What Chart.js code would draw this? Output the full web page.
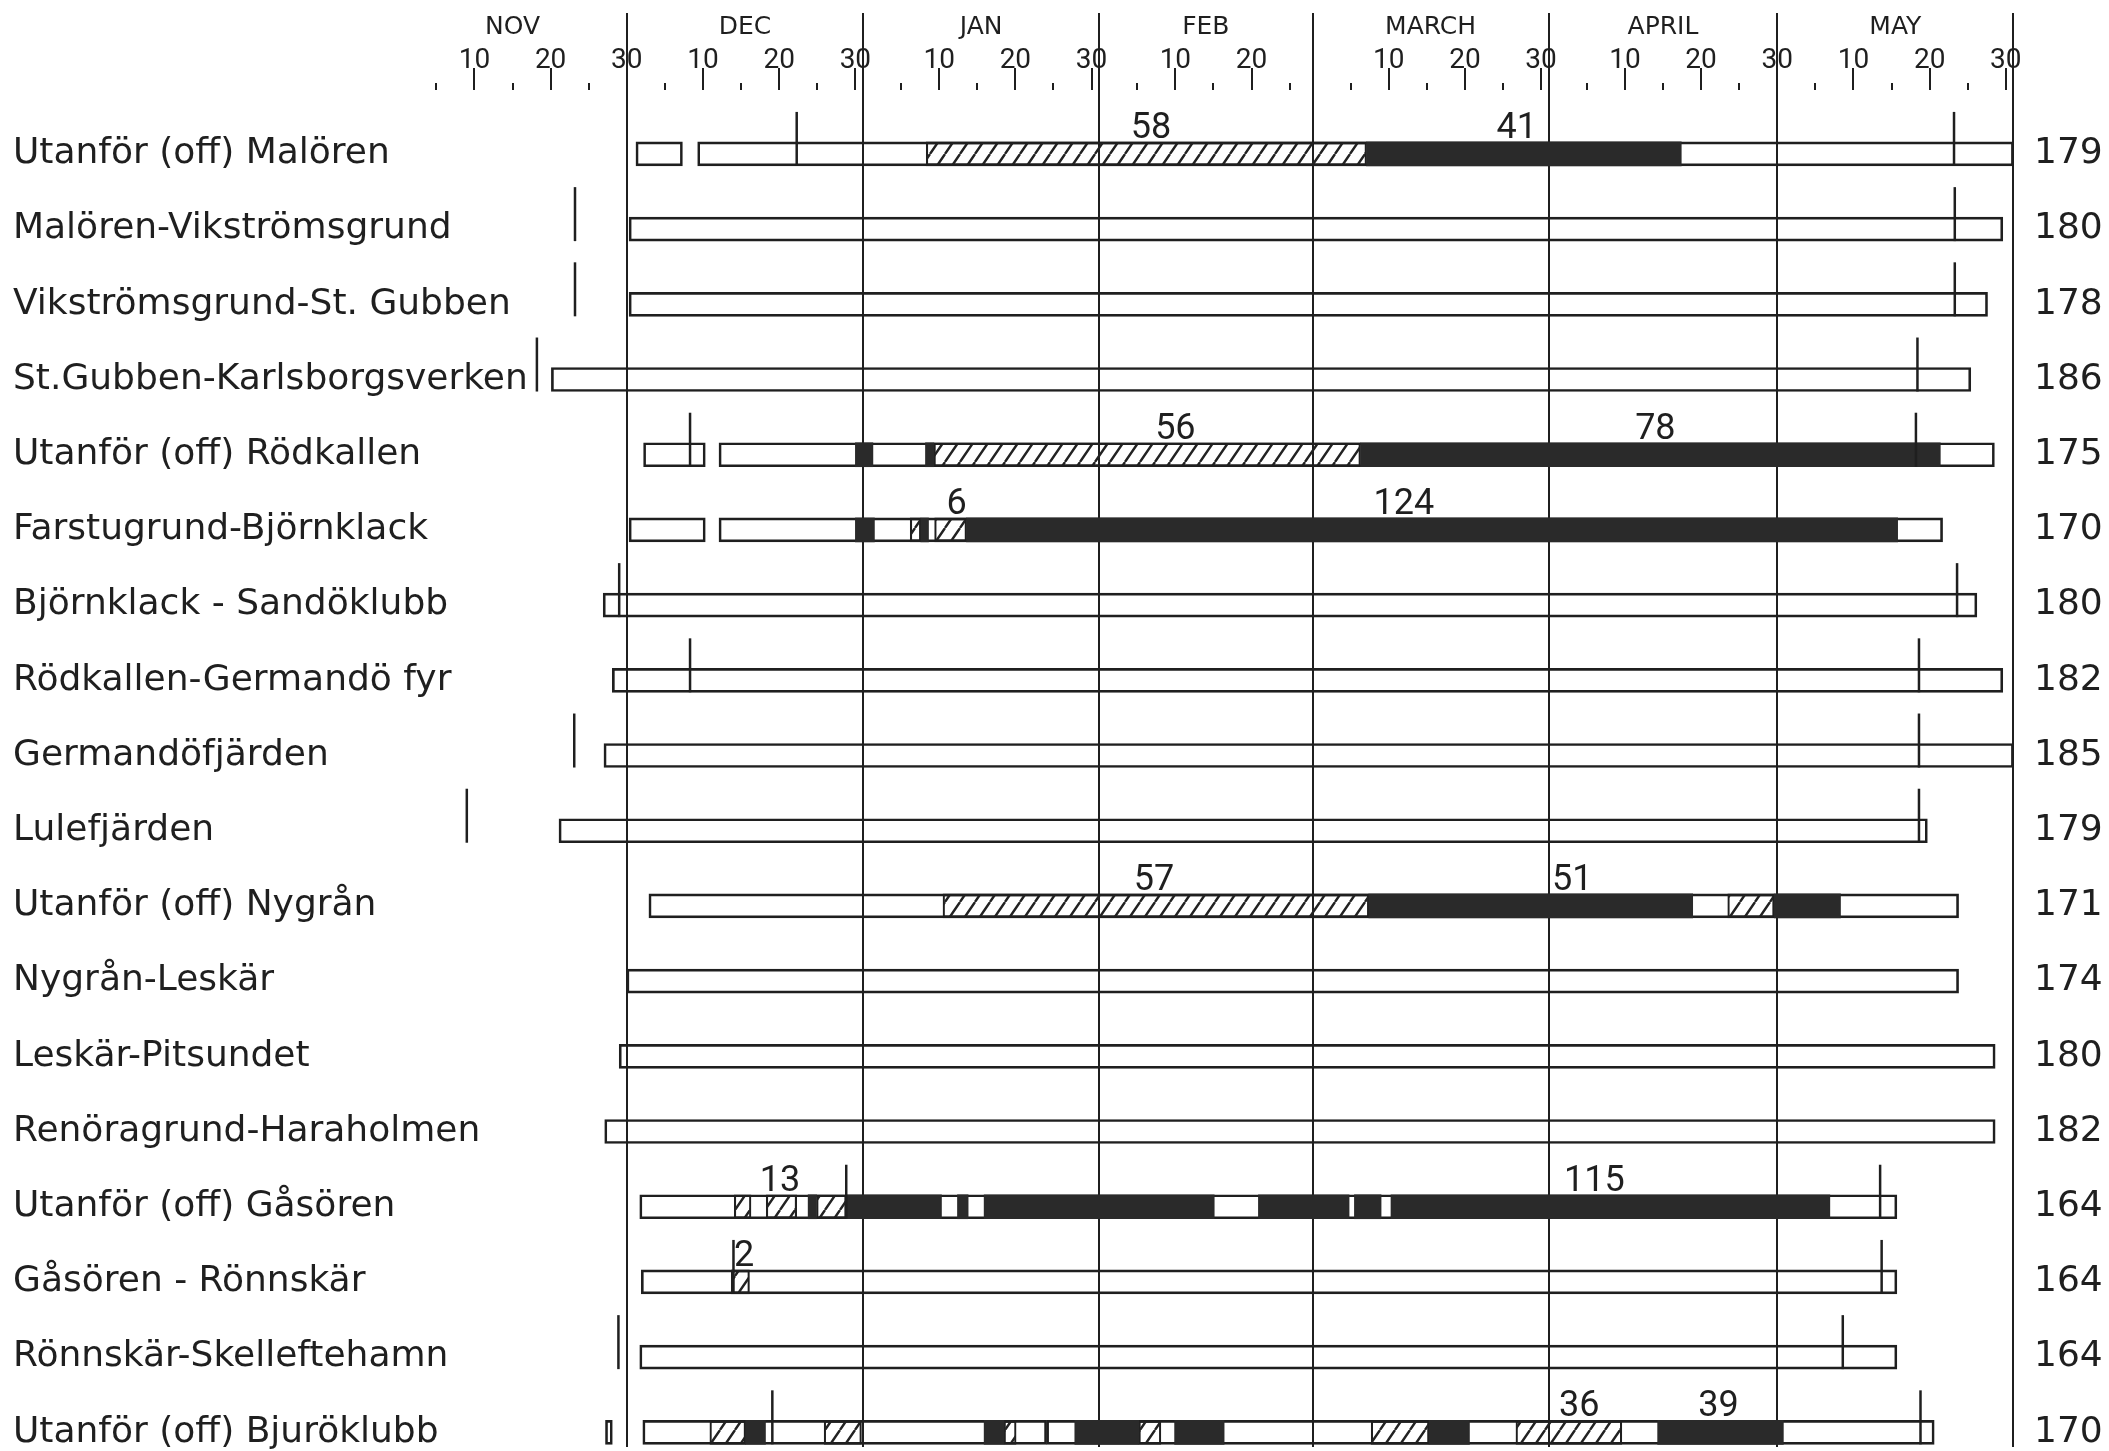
<!DOCTYPE html>
<html><head><meta charset="utf-8">
<script src="https://cdn.jsdelivr.net/npm/chart.js@4.4.0/dist/chart.umd.min.js"></script>
<style>html,body{margin:0;padding:0;background:#fff;}canvas{display:block;}</style>
</head><body>
<canvas id="c" width="2109" height="1451"></canvas>
<script>
// ---------- DATA (day numbers counted from 1 Nov = 1; 30 = 30 Nov, 61 = 31 Dec, ...) ----------
const stations = [
  'Utanför (off) Malören', 'Malören-Vikströmsgrund', 'Vikströmsgrund-St. Gubben',
  'St.Gubben-Karlsborgsverken', 'Utanför (off) Rödkallen', 'Farstugrund-Björnklack',
  'Björnklack - Sandöklubb', 'Rödkallen-Germandö fyr', 'Germandöfjärden', 'Lulefjärden',
  'Utanför (off) Nygrån', 'Nygrån-Leskär', 'Leskär-Pitsundet', 'Renöragrund-Haraholmen',
  'Utanför (off) Gåsören', 'Gåsören - Rönnskär', 'Rönnskär-Skelleftehamn', 'Utanför (off) Bjuröklubb'
];
const totalDays = [179, 180, 178, 186, 175, 170, 180, 182, 185, 179, 171, 174, 180, 182, 164, 164, 164, 170];

const monthNames = ['NOV', 'DEC', 'JAN', 'FEB', 'MARCH', 'APRIL', 'MAY'];
const monthLengths = [30, 31, 31, 28, 31, 30, 31];
const labelledDays = [10, 20, 30];
const dottedDays = [5, 15, 25];

// [row, from, to]
const openSpans = [
  [0, 31.2, 37.3], [0, 39.3, 212],
  [1, 30.3, 210.6],
  [2, 30.3, 208.6],
  [3, 20.1, 206.4],
  [4, 32.2, 40.3], [4, 42.1, 209.5],
  [5, 30.3, 40.3], [5, 42.1, 202.7],
  [6, 26.9, 207.2],
  [7, 28.1, 210.6],
  [8, 27.0, 212],
  [9, 21.1, 200.7],
  [10, 32.9, 204.8],
  [11, 30.0, 204.8],
  [12, 29.0, 209.6],
  [13, 27.1, 209.6],
  [14, 31.7, 196.7],
  [15, 31.9, 196.7],
  [16, 31.7, 196.7],
  [17, 27.2, 28.1], [17, 32.1, 85.1], [17, 85.1, 201.6]
];
const hatchedSpans = [
  [0, 69.3, 127.1],
  [4, 70.3, 126.3],
  [5, 67.2, 68.6], [5, 70.4, 74.6],
  [10, 71.5, 127.4], [10, 174.5, 180.6],
  [14, 44.1, 46.3], [14, 48.3, 52.3], [14, 54.9, 58.8],
  [15, 43.7, 46.1],
  [17, 40.9, 45.6], [17, 55.9, 60.8], [17, 79.5, 81.1], [17, 97.2, 100.1],
  [17, 127.7, 135.3], [17, 146.7, 160.6]
];
const solidSpans = [
  [0, 127.1, 168.4],
  [4, 60.0, 62.3], [4, 69.2, 70.3], [4, 126.3, 202.4],
  [5, 60.0, 62.5], [5, 68.6, 69.6], [5, 74.6, 196.8],
  [10, 127.4, 169.9], [10, 180.6, 189.3],
  [14, 53.8, 54.9], [14, 58.8, 71.3], [14, 73.4, 74.8], [14, 76.9, 107.1],
  [14, 112.9, 124.8], [14, 125.5, 129.0], [14, 130.3, 187.9],
  [17, 45.6, 48.2], [17, 76.9, 79.5], [17, 88.8, 97.2], [17, 101.9, 108.4],
  [17, 135.3, 140.6], [17, 165.3, 181.8]
];
// [row, day] vertical marks
const markDays = [
  [0, 52.3], [0, 204.2],
  [1, 23.2], [1, 204.3],
  [2, 23.2], [2, 204.3],
  [3, 18.2], [3, 199.4],
  [4, 38.3], [4, 199.2],
  [6, 29.0], [6, 204.6],
  [7, 38.3], [7, 199.6],
  [8, 23.1], [8, 199.6],
  [9, 9.0], [9, 199.6],
  [14, 58.8], [14, 194.5],
  [15, 44.0], [15, 194.7],
  [16, 28.9], [16, 189.6],
  [17, 49.1], [17, 199.8]
];
// [row, day, text] numbers written above the bars
const spanNumbers = [
  [0, 98.8, '58'], [0, 146.8, '41'],
  [4, 102, '56'], [4, 165, '78'],
  [5, 73.3, '6'], [5, 132, '124'],
  [10, 99.2, '57'], [10, 154.1, '51'],
  [14, 50.1, '13'], [14, 157, '115'],
  [15, 45.4, '2'],
  [17, 155, '36'], [17, 173.3, '39']
];

// ---------- derived axis helpers ----------
const monthStart = [];
monthLengths.reduce((acc, len, i) => { monthStart[i] = acc; return acc + len; }, 0);
const monthEnds = monthLengths.map((len, i) => monthStart[i] + len);
const axisTicks = [];
monthLengths.forEach((len, i) => {
  [...dottedDays, ...labelledDays].forEach(d => { if (d <= len) axisTicks.push(monthStart[i] + d); });
  axisTicks.push(monthStart[i] + len);
});
const tickValues = [...new Set(axisTicks)].sort((a, b) => a - b);
function dayOfMonth(v) {
  for (let i = 0; i < monthLengths.length; i++) {
    if (v > monthStart[i] && v <= monthEnds[i]) return v - monthStart[i];
  }
  return null;
}

// ---------- layout constants ----------
const X_MIN = -52.27, X_MAX = 212.86;
const ROW_PX = 75.2;
const Y_MIN = -0.85, Y_MAX = 17.195;
const BAR_PX = 24;
const MARK_RISE = 30;
const INK = '#1f1f1f';

const canvas = document.getElementById('c');
const ctx = canvas.getContext('2d');

function makeHatch() {
  const w = 15, h = 22;
  const t = document.createElement('canvas');
  t.width = w; t.height = h;
  const g = t.getContext('2d');
  g.strokeStyle = '#222';
  g.lineWidth = 2.4;
  g.beginPath();
  for (let k = -1; k <= 1; k++) { g.moveTo(k * w, h); g.lineTo(k * w + w, 0); }
  g.stroke();
  return ctx.createPattern(t, 'repeat');
}
const hatch = makeHatch();

const toBars = spans => spans.map(([r, a, b]) => ({ x: [a, b], y: r }));

const numberPlugin = {
  id: 'spanNumbers',
  afterDatasetsDraw(chart) {
    const c = chart.ctx, xs = chart.scales.x, ys = chart.scales.y;
    c.save();
    c.font = '36px Roboto';
    c.fillStyle = INK;
    c.textAlign = 'center';
    c.textBaseline = 'alphabetic';
    spanNumbers.forEach(([r, d, t]) => {
      c.fillText(t, xs.getPixelForValue(d), ys.getPixelForValue(r) - BAR_PX / 2 - 4);
    });
    c.restore();
  }
};

const rowTicks = s => { s.ticks = stations.map((_, i) => ({ value: i })); };
const noGrid = { display: false, drawTicks: false };
const fixSize = (w, h) => s => {
  if (w !== null) s.width = w;
  if (h !== null) s.height = h;
  s.paddingTop = 0; s.paddingBottom = 0; s.paddingLeft = 0; s.paddingRight = 0;
};

new Chart(ctx, {
  type: 'bar',
  data: {
    datasets: [
      { type: 'bar', label: 'open', data: toBars(openSpans), xAxisID: 'x', yAxisID: 'y',
        backgroundColor: 'rgba(0,0,0,0)', borderColor: INK, borderWidth: 2, borderSkipped: false,
        grouped: false, barThickness: BAR_PX, order: 3 },
      { type: 'bar', label: 'hatched', data: toBars(hatchedSpans), xAxisID: 'x', yAxisID: 'y',
        backgroundColor: hatch, borderColor: INK, borderWidth: { left: 1.5, right: 1.5, top: 2, bottom: 2 },
        borderSkipped: false, grouped: false, barThickness: BAR_PX, order: 2 },
      { type: 'bar', label: 'solid', data: toBars(solidSpans), xAxisID: 'x', yAxisID: 'y',
        backgroundColor: '#2a2a2a', borderWidth: 0, grouped: false, barThickness: BAR_PX, order: 1 },
      { type: 'scatter', label: 'marks', indexAxis: 'x', xAxisID: 'x', yAxisID: 'y', clip: false,
        data: markDays.map(([r, d]) => ({ x: d, y: r - (MARK_RISE / 2) / ROW_PX })),
        pointStyle: 'line', pointRadius: (BAR_PX + MARK_RISE) / 2, pointHoverRadius: (BAR_PX + MARK_RISE) / 2,
        pointRotation: 90, pointBorderWidth: 2.5, pointBorderColor: INK, pointBackgroundColor: INK, order: 0 }
    ]
  },
  options: {
    indexAxis: 'y',
    responsive: false,
    animation: false,
    devicePixelRatio: 1,
    layout: { autoPadding: false, padding: { top: 0, left: 0, right: 0, bottom: 4 } },
    plugins: { legend: { display: false }, tooltip: { enabled: false } },
    scales: {
      x: {
        type: 'linear', position: 'top', min: X_MIN, max: X_MAX, beginAtZero: false,
        afterBuildTicks: s => { s.ticks = tickValues.map(v => ({ value: v })); },
        afterFit: fixSize(null, 50),
        border: { display: false },
        grid: {
          drawOnChartArea: true, drawTicks: true, tickLength: 77,
          color: INK, tickColor: INK, tickWidth: 2,
          lineWidth: c => (c.tick && monthEnds.includes(c.tick.value)) ? 2 : 0,
          tickBorderDash: c => {
            if (!c.tick) return [];
            const v = c.tick.value;
            if (monthEnds.includes(v)) return [];
            const d = dayOfMonth(v);
            return labelledDays.includes(d) ? [0, 55, 22, 100] : [0, 70, 7, 100];
          }
        },
        ticks: {
          autoSkip: false, maxRotation: 0, minRotation: 0, padding: -64.8,
          color: INK, font: { family: 'Roboto', size: 28 },
          callback: v => { const d = dayOfMonth(v); return labelledDays.includes(d) ? String(d) : ''; }
        }
      },
      xm: {
        type: 'linear', position: 'top', weight: 10, min: X_MIN, max: X_MAX, beginAtZero: false,
        afterBuildTicks: s => { s.ticks = monthNames.map((_, i) => ({ value: monthStart[i] + monthLengths[i] / 2 })); },
        afterFit: fixSize(null, 40),
        border: { display: false },
        grid: noGrid,
        ticks: {
          autoSkip: false, maxRotation: 0, minRotation: 0, padding: -2,
          color: INK, font: { family: 'DejaVu Sans', size: 25 },
          callback: (v, i) => monthNames[i]
        }
      },
      y: {
        type: 'linear', position: 'left', reverse: true, offset: false, display: false,
        min: Y_MIN, max: Y_MAX, grid: { offset: false }, afterFit: fixSize(0, null)
      },
      yl: {
        type: 'linear', position: 'left', reverse: true, offset: false,
        min: Y_MIN, max: Y_MAX,
        afterBuildTicks: rowTicks,
        afterFit: fixSize(0, null),
        border: { display: false },
        grid: noGrid,
        ticks: {
          mirror: true, crossAlign: 'near', padding: 13, autoSkip: false,
          color: INK, font: { family: 'DejaVu Sans', size: 36 },
          callback: v => stations[v]
        }
      },
      yr: {
        type: 'linear', position: 'right', reverse: true, offset: false,
        min: Y_MIN, max: Y_MAX,
        afterBuildTicks: rowTicks,
        afterFit: fixSize(89, null),
        border: { display: false },
        grid: noGrid,
        ticks: {
          padding: 14, autoSkip: false,
          color: INK, font: { family: 'DejaVu Sans', size: 36 },
          callback: v => String(totalDays[v])
        }
      }
    }
  },
  plugins: [numberPlugin]
});
</script>
</body></html>
